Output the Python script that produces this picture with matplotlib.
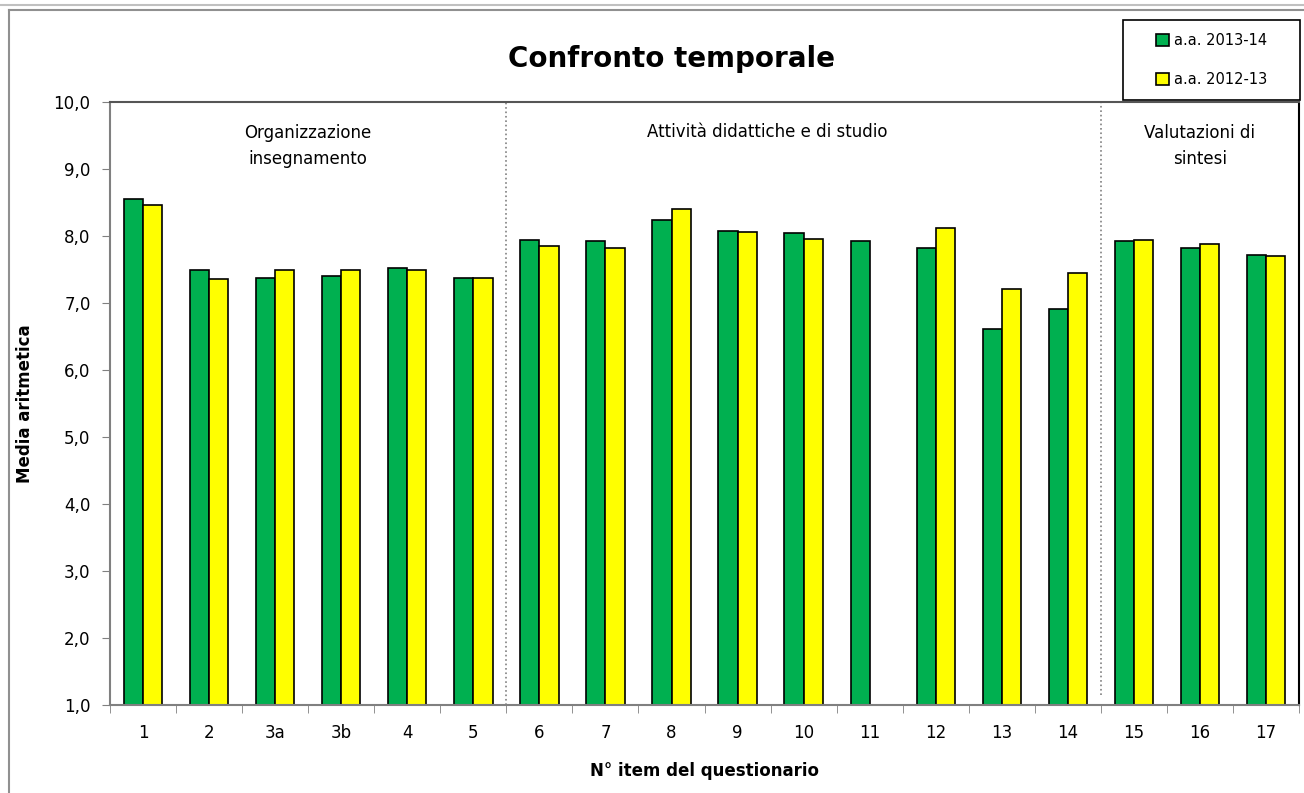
import matplotlib.pyplot as plt
import numpy as np
from matplotlib.lines import Line2D
from matplotlib.patches import Rectangle
from matplotlib.ticker import FuncFormatter

items = ["1", "2", "3a", "3b", "4", "5", "6", "7", "8", "9", "10",
         "11", "12", "13", "14", "15", "16", "17"]
aa_2013_14 = [8.56, 7.50, 7.38, 7.41, 7.53, 7.37, 7.94, 7.93, 8.24, 8.08,
              8.05, 7.93, 7.83, 6.61, 6.91, 7.93, 7.82, 7.72]
aa_2012_13 = [8.47, 7.36, 7.50, 7.49, 7.49, 7.38, 7.86, 7.83, 8.41, 8.06,
              7.96, np.nan, 8.12, 7.21, 7.45, 7.94, 7.88, 7.70]

fig = plt.figure(figsize=(13.04, 7.93), dpi=100)
ax = fig.add_axes([0.0844, 0.111, 0.9118, 0.760])

x = np.arange(len(items))
w = 0.29
ax.bar(x - w / 2, aa_2013_14, w, bottom=0, color="#00B050",
       edgecolor="black", linewidth=1.2, label="a.a. 2013-14")
ax.bar(x + w / 2, aa_2012_13, w, bottom=0, color="#FFFF00",
       edgecolor="black", linewidth=1.2, label="a.a. 2012-13")

ax.set_xlim(-0.5, len(items) - 0.5)
ax.set_ylim(1, 10)
ax.set_yticks(np.arange(1, 11))
ax.yaxis.set_major_formatter(FuncFormatter(lambda v, p: f"{v:.1f}".replace(".", ",")))
ax.set_xticks(x)
ax.set_xticklabels(items)
ax.set_xticks(np.arange(-0.5, len(items)), minor=True)
ax.tick_params(axis="x", which="major", length=0, pad=14, labelsize=12)
ax.tick_params(axis="x", which="minor", length=6, color="#808080")
ax.tick_params(axis="y", length=6, color="#808080", labelsize=12, pad=8)

for s in ["left", "bottom"]:
    ax.spines[s].set_color("#808080")
    ax.spines[s].set_linewidth(1.5)
ax.spines["top"].set_color("#555555")
ax.spines["top"].set_linewidth(1.5)
ax.spines["right"].set_color("black")
ax.spines["right"].set_linewidth(1.5)

# separatori tra i gruppi
ax.plot([5.5, 5.5], [1, 10], color="#808080", linestyle=":", linewidth=1.2)
ax.plot([14.5, 14.5], [1.15, 10], color="#808080", linestyle=":", linewidth=1.2)

ax.text(2.5, 9.35, "Organizzazione\ninsegnamento", ha="center", va="center",
        fontsize=12, linespacing=1.6)
ax.text(9.45, 9.55, "Attività didattiche e di studio", ha="center",
        va="center", fontsize=12)
ax.text(16.0, 9.35, "Valutazioni di\nsintesi", ha="center", va="center",
        fontsize=12, linespacing=1.6)

ax.set_ylabel("Media aritmetica", fontsize=12, fontweight="bold", labelpad=14)
ax.set_xlabel("N° item del questionario", fontsize=12, fontweight="bold",
              labelpad=14)
fig.text(0.515, 0.925, "Confronto temporale", ha="center", va="center",
         fontsize=20, fontweight="bold")

# legenda: riquadro disegnato a parte
fig.add_artist(Rectangle((0.861, 0.874), 0.136, 0.101, transform=fig.transFigure,
                         facecolor="white", edgecolor="black", linewidth=1.2))
fig.legend(loc="center", bbox_to_anchor=(0.929, 0.9245),
           fontsize=10.5, frameon=False, handlelength=0.9, handleheight=0.9,
           handletextpad=0.3, labelspacing=1.65, borderpad=0, borderaxespad=0)

# cornice esterna
fig.add_artist(Line2D([0, 1], [0.994, 0.994], color="#c0c0c0", linewidth=1.5))
fig.add_artist(Line2D([0.007, 1], [0.987, 0.987], color="#909090", linewidth=1.5))
fig.add_artist(Line2D([0.007, 0.007], [0, 0.987], color="#909090", linewidth=1.5))

fig.savefig("out.png", dpi=100)
